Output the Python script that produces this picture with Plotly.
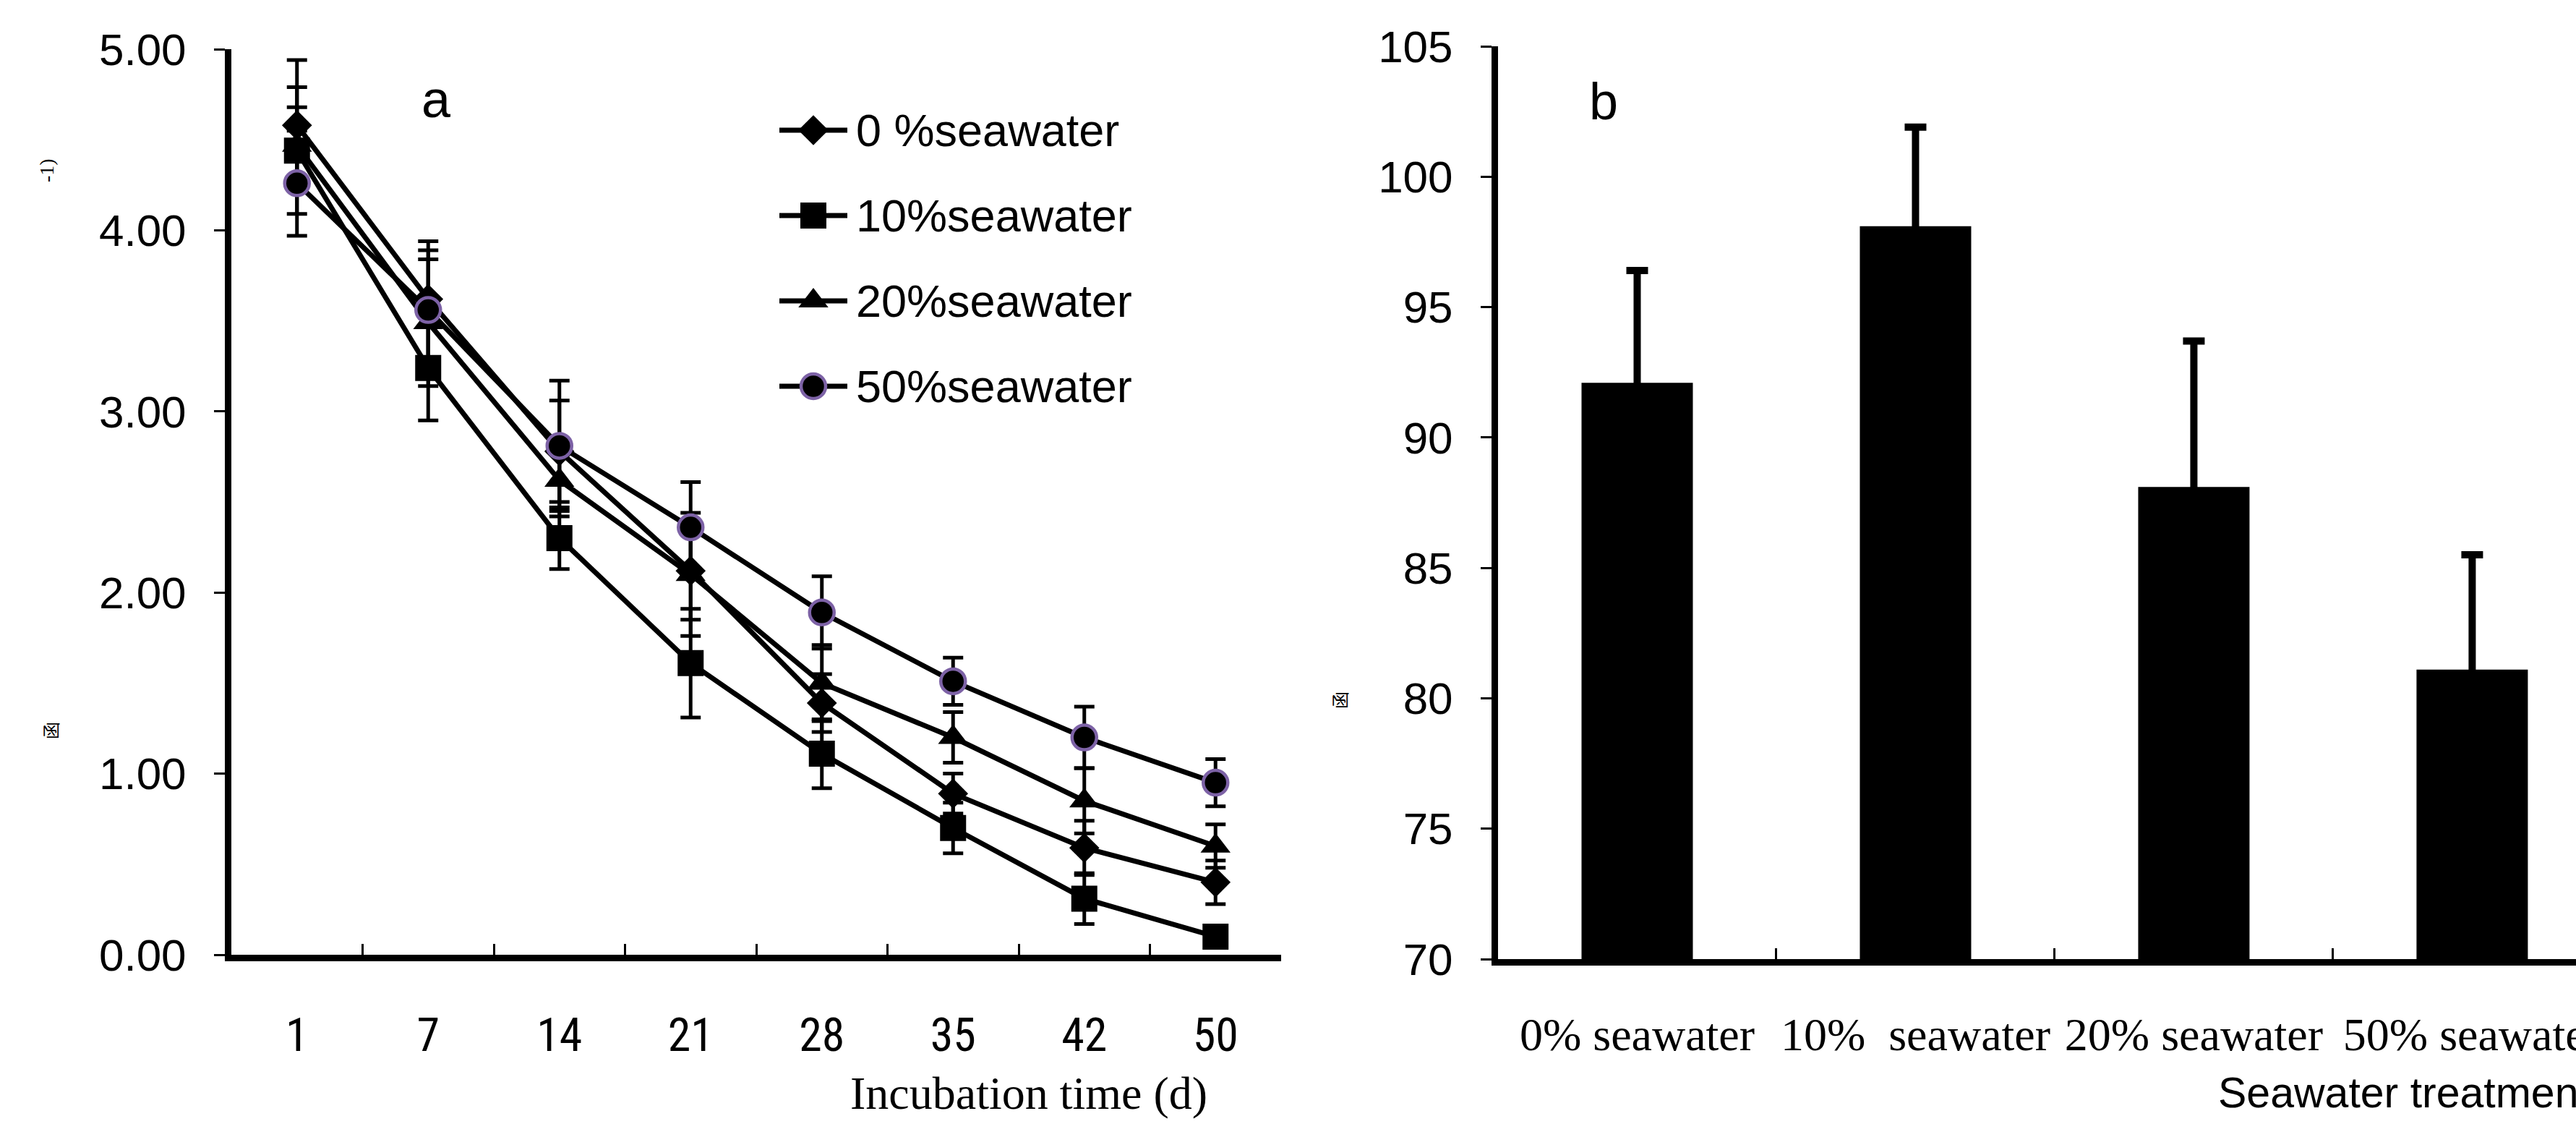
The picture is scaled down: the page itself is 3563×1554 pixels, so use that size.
import plotly.graph_objects as go

# ---------------- data ----------------
days = ["1", "7", "14", "21", "28", "35", "42", "50"]
series_names = ["0 %seawater", "10%seawater", "20%seawater", "50%seawater"]

s0 = [4.58, 3.62, 2.78, 2.12, 1.39, 0.89, 0.59, 0.40]
e0 = [0.36, 0.32, 0.28, 0.27, 0.16, 0.11, 0.15, 0.12]
s10 = [4.44, 3.24, 2.30, 1.61, 1.11, 0.70, 0.31, 0.10]
e10 = [0.35, 0.29, 0.17, 0.30, 0.19, 0.14, 0.14, 0.05]
s20 = [4.47, 3.49, 2.62, 2.10, 1.50, 1.20, 0.85, 0.60]
e20 = [0.21, 0.35, 0.20, 0.34, 0.21, 0.14, 0.18, 0.12]
s50 = [4.26, 3.56, 2.81, 2.36, 1.89, 1.51, 1.20, 0.95]
e50 = [0.29, 0.33, 0.36, 0.25, 0.20, 0.13, 0.17, 0.13]

treatments = ["0% seawater", "10%  seawater", "20% seawater", "50% seawater"]
bar_vals = [92.1, 98.1, 88.1, 81.1]
bar_err = [4.3, 3.8, 5.6, 4.4]

left_ticks = [0, 1, 2, 3, 4, 5]
right_ticks = [70, 75, 80, 85, 90, 95, 100, 105]

# ---------------- geometry ----------------
W, H = 3563, 1554
def px(x):
    return x / W
def py(y):
    return 1 - y / H

PURPLE = "#7d62a6"
SANS = "Liberation Sans, Arial, sans-serif"
NARROW = "Liberation Sans Narrow, Arial Narrow, Roboto Condensed, Liberation Sans, sans-serif"
SERIF = "Liberation Serif, Times New Roman, serif"

styles = [
    dict(symbol="diamond", size=32, color="black", line=dict(width=0)),
    dict(symbol="square", size=36, color="black", line=dict(width=0)),
    dict(symbol="triangle-up", size=36, color="black", line=dict(width=0)),
    dict(symbol="circle", size=34, color="black", line=dict(width=4.5, color=PURPLE)),
]
vals = [s0, s10, s20, s50]
errs = [e0, e10, e20, e50]

fig = go.Figure()

for name, v, e, st in zip(series_names, vals, errs, styles):
    fig.add_trace(go.Scatter(
        x=days, y=v, name=name, mode="lines+markers",
        line=dict(color="black", width=7),
        marker=st,
        error_y=dict(type="data", array=e, visible=True, color="black",
                     thickness=5, width=14),
        xaxis="x", yaxis="y", showlegend=False,
    ))

fig.add_trace(go.Bar(
    x=treatments, y=bar_vals, marker=dict(color="black", line=dict(width=0)),
    width=0.4,
    error_y=dict(type="data", array=bar_err, visible=True, color="black",
                 thickness=10, width=15),
    xaxis="x2", yaxis="y2", showlegend=False,
))

# custom legend swatches on an auxiliary axis (pixel-like coordinates)
legend_rows = [180, 298, 416, 534]
for name, st, yr in zip(series_names, styles, legend_rows):
    fig.add_trace(go.Scatter(
        x=[0, 0.5, 1], y=[yr, yr, yr], mode="lines",
        line=dict(color="black", width=7),
        xaxis="x3", yaxis="y3", showlegend=False, hoverinfo="skip",
    ))
    fig.add_trace(go.Scatter(
        x=[0.5], y=[yr], mode="markers", marker=st,
        xaxis="x3", yaxis="y3", showlegend=False, hoverinfo="skip",
    ))

axis_common = dict(showline=True, linecolor="black", showgrid=False,
                   zeroline=False, ticks="outside", tickcolor="black",
                   automargin=False)

fig.update_layout(
    width=W, height=H,
    margin=dict(l=0, r=0, t=0, b=0, pad=0, autoexpand=False),
    paper_bgcolor="white", plot_bgcolor="white",
    font=dict(family=SANS, color="black"),
    xaxis=dict(
        domain=[px(320), px(1772)], type="category", range=[-0.5, 7.5],
        showline=True, linecolor="black", linewidth=9, showgrid=False,
        zeroline=False, ticks="inside", tickson="boundaries", ticklen=15,
        tickwidth=3, tickcolor="black", automargin=False,
        tickfont=dict(family=NARROW, size=64), ticklabelstandoff=47,
        anchor="y",
    ),
    yaxis=dict(
        domain=[py(1320), py(68)], range=[0, 5], tickvals=left_ticks,
        tickformat=".2f", linewidth=9, ticklen=15, tickwidth=3,
        tickfont=dict(family=SANS, size=62), ticklabelstandoff=26,
        anchor="x", **axis_common,
    ),
    xaxis2=dict(
        domain=[px(2072), 1], type="category", range=[-0.5, 3.373],
        showline=True, linecolor="black", linewidth=9, showgrid=False,
        zeroline=False, ticks="inside", tickson="boundaries", ticklen=15,
        tickwidth=3, tickcolor="black", automargin=False,
        tickfont=dict(family=SERIF, size=64), ticklabelstandoff=40,
        anchor="y2",
    ),
    yaxis2=dict(
        domain=[py(1326), py(64)], range=[70, 105], tickvals=right_ticks,
        linewidth=9, ticklen=15, tickwidth=3,
        tickfont=dict(family=SANS, size=62), ticklabelstandoff=26,
        anchor="x2", **axis_common,
    ),
    xaxis3=dict(domain=[px(1078), px(1172)], range=[0, 1], visible=False,
                anchor="y3", fixedrange=True),
    yaxis3=dict(domain=[py(600), py(100)], range=[600, 100], visible=False,
                anchor="x3", fixedrange=True),
)

def ann(x, y, text, size, family=SANS, xanchor="center", angle=0):
    return dict(x=px(x), y=py(y), xref="paper", yref="paper", text=text,
                showarrow=False, xanchor=xanchor, yanchor="middle",
                textangle=angle,
                font=dict(family=family, size=size, color="black"))

annotations = [ann(1182, yr, name, 63, xanchor="left")
               for name, yr in zip(series_names, legend_rows)]
annotations += [
    ann(603, 137, "a", 72),
    ann(2218, 140, "b", 72),
    ann(1423, 1511, "Incubation time (d)", 64, family=SERIF),
    ann(3066, 1511, "Seawater treatment", 59, xanchor="left"),
    ann(64, 236, "-1)", 28, family=SERIF, angle=-90),
    ann(70, 1010, "函", 24, family="Noto Sans CJK SC", angle=-90),
    ann(1852, 968, "函", 24, family="Noto Sans CJK SC", angle=-90),
]
fig.update_layout(annotations=annotations)

fig.write_html("out.html", config={"displayModeBar": False},
               post_script="document.body.style.margin='0px';")
